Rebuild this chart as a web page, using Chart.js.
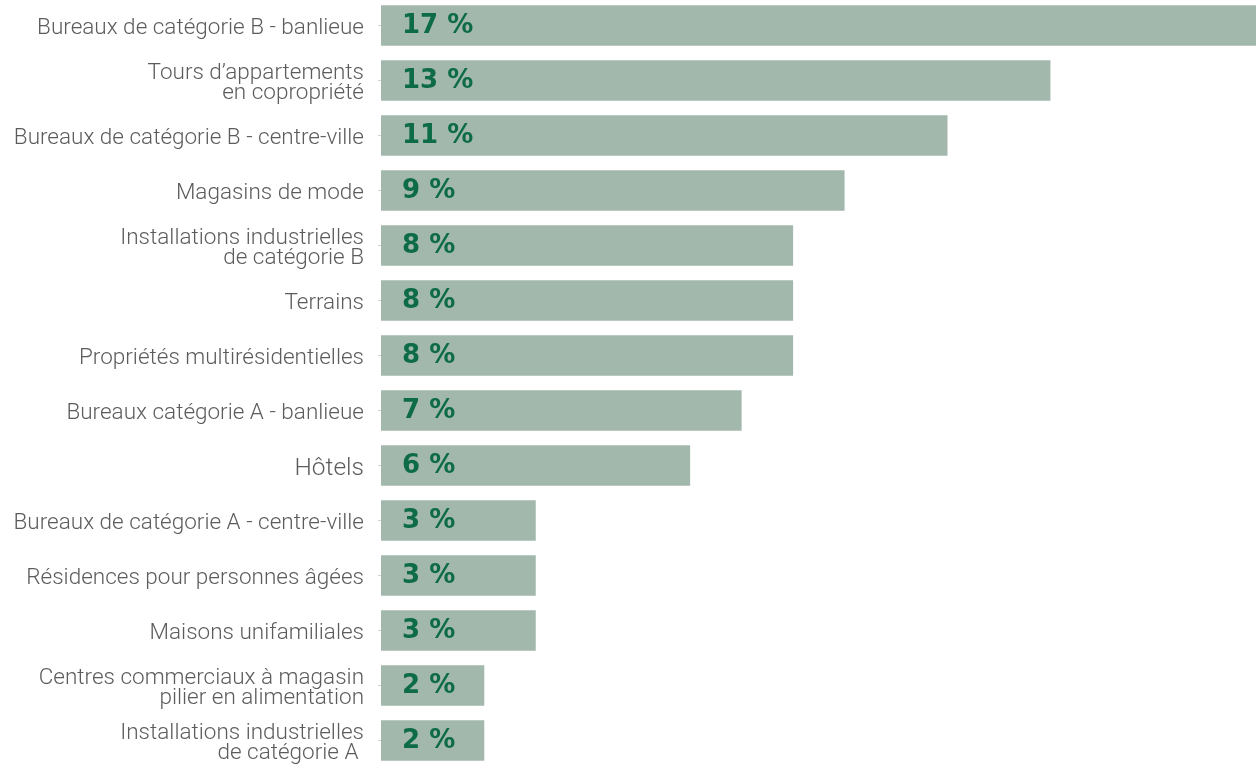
<!DOCTYPE html>
<html lang="fr">
<head>
<meta charset="utf-8">
<title>Répartition par catégorie</title>
<script src="https://cdn.jsdelivr.net/npm/chart.js@4.4.1/dist/chart.umd.min.js"></script>
<style>
  html, body { margin: 0; padding: 0; background: #ffffff; overflow: hidden; }
  #wrap { position: relative; top: -2px; width: 1256px; height: 770px; }
</style>
</head>
<body>
<div id="wrap"><canvas id="barChart"></canvas></div>
<script>
const categories = [
  'Bureaux de catégorie B - banlieue',
  ['Tours d\u2019appartements', 'en copropriété'],
  'Bureaux de catégorie B - centre-ville',
  'Magasins de mode',
  ['Installations industrielles', 'de catégorie B'],
  'Terrains',
  'Propriétés multirésidentielles',
  'Bureaux catégorie A - banlieue',
  'Hôtels',
  'Bureaux de catégorie A - centre-ville',
  'Résidences pour personnes âgées',
  'Maisons unifamiliales',
  ['Centres commerciaux à magasin', 'pilier en alimentation'],
  ['Installations industrielles', 'de catégorie A ']
];
const percentages = [17, 13, 11, 9, 8, 8, 8, 7, 6, 3, 3, 3, 2, 2];

const barColor = '#a3b8ac';
const valueColor = '#0d6b48';
const labelColor = '#5c5c5c';

// writes "NN %" inside the start of every bar
const valueLabels = {
  id: 'valueLabels',
  afterDatasetsDraw(chart) {
    const { ctx } = chart;
    const meta = chart.getDatasetMeta(0);
    ctx.save();
    ctx.font = 'bold 26px "DejaVu Sans"';
    ctx.fillStyle = valueColor;
    ctx.textAlign = 'left';
    ctx.textBaseline = 'middle';
    meta.data.forEach((bar, i) => {
      ctx.fillText(percentages[i] + ' %', bar.base + 21, bar.y + 1);
    });
    ctx.restore();
  }
};

new Chart(document.getElementById('barChart'), {
  type: 'bar',
  data: {
    labels: categories,
    datasets: [{
      data: percentages,
      backgroundColor: barColor,
      borderWidth: 0,
      barThickness: 40
    }]
  },
  options: {
    indexAxis: 'y',
    responsive: true,
    maintainAspectRatio: false,
    animation: false,
    layout: { padding: 0 },
    plugins: {
      legend: { display: false },
      tooltip: { enabled: false }
    },
    scales: {
      x: {
        display: false,
        min: 0,
        max: 17
      },
      y: {
        afterFit(scale) {
          // fixed label column, and no extra room above/below the bars
          scale.width = 381;
          scale.paddingTop = 0;
          scale.paddingBottom = 0;
        },
        border: { display: false },
        grid: {
          offset: false,
          drawOnChartArea: false,
          drawTicks: true,
          tickLength: 3,
          color: '#d0d0d0'
        },
        ticks: {
          color: labelColor,
          padding: 14,
          labelOffset: 3,
          font(ctx) {
            const big = ctx.index === 8;
            return { family: 'Roboto', weight: 300, size: big ? 24.5 : 22.5, lineHeight: 0.88 };
          }
        }
      }
    }
  },
  plugins: [valueLabels]
});
</script>
</body>
</html>
